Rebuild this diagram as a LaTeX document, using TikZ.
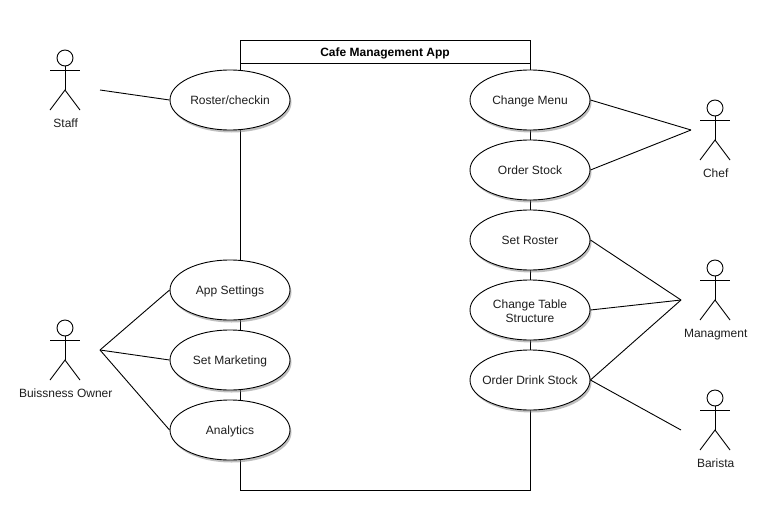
\documentclass[tikz,border=0pt]{standalone}
\usepackage{fontspec}
\setmainfont{Liberation Sans}
\usetikzlibrary{shapes.geometric,shadows}
\definecolor{textgrey}{RGB}{30,30,30}

\begin{document}
\begin{tikzpicture}[x=1pt,y=-1pt,line width=0.9pt]
\tikzstyle{usecase}=[draw, ellipse, fill=white, inner sep=0pt, minimum width=120pt, minimum height=60pt, align=center, text=textgrey, text height=11pt, text depth=2.4pt, font=\fontsize{12}{14}\selectfont, drop shadow={shadow xshift=1.5pt, shadow yshift=-2.5pt, opacity=0.5}]
\tikzstyle{actorhead}=[draw, circle, inner sep=0pt, minimum size=16pt]
\tikzstyle{actorname}=[inner sep=0pt, text=textgrey, text height=9pt, text depth=2.4pt, font=\fontsize{12}{14}\selectfont]
\useasboundingbox (0,0) rectangle (770,530);

% system box
\node[draw, minimum width=290pt, minimum height=450pt, inner sep=0pt] (app) at (385,265) {};
\node[draw, minimum width=290pt, minimum height=23pt, inner sep=0pt, text height=12pt, text depth=2.4pt, font=\bfseries\fontsize{12}{14}\selectfont] (title) at (385,51.5) {Cafe Management App};

% use cases
\node[usecase] (roster) at (230,100) {Roster/checkin};
\node[usecase] (settings) at (230,290) {App Settings};
\node[usecase] (marketing) at (230,360) {Set Marketing};
\node[usecase] (analytics) at (230,430) {Analytics};
\node[usecase] (menu) at (530,100) {Change Menu};
\node[usecase] (stock) at (530,170) {Order Stock};
\node[usecase] (setroster) at (530,240) {Set Roster};
\node[usecase, text height=, text depth=] (tables) at (530,310) {\rule{0pt}{10.8pt}Change Table\\Structure};
\node[usecase, inner xsep=-12pt] (drink) at (530,380) {Order Drink Stock};

% actors
\foreach \id/\lbl/\x/\y in {staff/Staff/65/58, owner/Buissness Owner/65/328, chef/Chef/715/108, manager/Managment/715/268, barista/Barista/715/398}{
  \node[actorhead] (\id) at (\x,\y) {};
  \coordinate (\id hip) at (\x,\y+32);
  \coordinate (\id larm) at (\x-15,\y+12);
  \coordinate (\id rarm) at (\x+15,\y+12);
  \coordinate (\id lfoot) at (\x-15,\y+52);
  \coordinate (\id rfoot) at (\x+15,\y+52);
  \draw (\id.south) -- (\id hip);
  \draw (\id larm) -- (\id rarm);
  \draw (\id lfoot) -- (\id hip) -- (\id rfoot);
  \node[actorname] (\id name) at (\x+0.7,\y+66) {\lbl};
}

% free line ends
\coordinate (staffend) at (100,90);
\coordinate (ownerend) at (100,350);
\coordinate (chefend) at (691,130);
\coordinate (managerend) at (681,300);
\coordinate (baristaend) at (681,430);

\draw (staffend) -- (roster.west);
\draw (ownerend) -- (settings.west);
\draw (ownerend) -- (marketing.west);
\draw (ownerend) -- (analytics.west);
\draw (chefend) -- (menu.east);
\draw (chefend) -- (stock.east);
\draw (managerend) -- (setroster.east);
\draw (managerend) -- (tables.east);
\draw (managerend) -- (drink.east);
\draw (baristaend) -- (drink.east);
\end{tikzpicture}
\end{document}
